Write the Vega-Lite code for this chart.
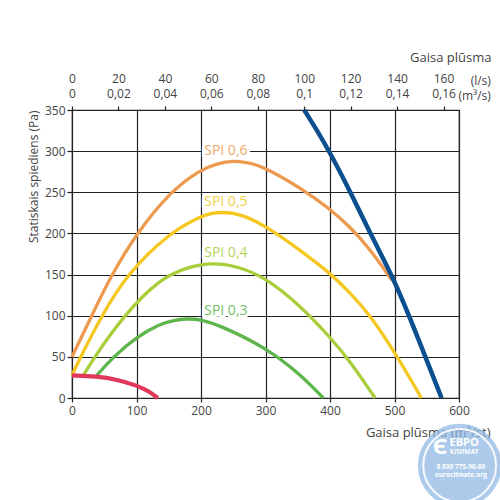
{
  "$schema": "https://vega.github.io/schema/vega-lite/v6.json",
  "width": 387,
  "height": 288,
  "autosize": "none",
  "padding": {"left": 72, "top": 110, "right": 41, "bottom": 102},
  "background": "white",
  "config": {
    "font": "Open Sans",
    "view": {"stroke": "#222", "strokeWidth": 1.2},
    "axis": {
      "domain": false,
      "labelFont": "Open Sans",
      "labelFontSize": 12,
      "labelColor": "#444",
      "titleFont": "Open Sans",
      "titleFontSize": 12,
      "titleFontWeight": "normal",
      "titleColor": "#444",
      "tickColor": "#222",
      "tickWidth": 1.2,
      "gridColor": "#222",
      "gridWidth": 1.2,
      "gridOpacity": 1
    }
  },
  "datasets": {
    "units": [
      {"t": "(l/s)", "ls": 180.4, "p": 385.6},
      {"t": "(m³/s)", "ls": 180.4, "p": 367.5}
    ],
    "curves": [
      {"series": "SPI 0,6", "q": 0, "p": 50},
      {"series": "SPI 0,6", "q": 30.5, "p": 100},
      {"series": "SPI 0,6", "q": 61.5, "p": 150},
      {"series": "SPI 0,6", "q": 100, "p": 200},
      {"series": "SPI 0,6", "q": 151.6, "p": 250},
      {"series": "SPI 0,6", "q": 198, "p": 277},
      {"series": "SPI 0,6", "q": 225, "p": 285},
      {"series": "SPI 0,6", "q": 250, "p": 288.5},
      {"series": "SPI 0,6", "q": 275, "p": 286},
      {"series": "SPI 0,6", "q": 299, "p": 280},
      {"series": "SPI 0,6", "q": 353, "p": 256},
      {"series": "SPI 0,6", "q": 400, "p": 230},
      {"series": "SPI 0,6", "q": 431, "p": 208},
      {"series": "SPI 0,6", "q": 462, "p": 181},
      {"series": "SPI 0,6", "q": 496, "p": 143},
      {"series": "SPI 0,5", "q": 0, "p": 27.5},
      {"series": "SPI 0,5", "q": 13.4, "p": 50},
      {"series": "SPI 0,5", "q": 46, "p": 100},
      {"series": "SPI 0,5", "q": 84.8, "p": 150},
      {"series": "SPI 0,5", "q": 150, "p": 200},
      {"series": "SPI 0,5", "q": 198, "p": 220},
      {"series": "SPI 0,5", "q": 215, "p": 224.5},
      {"series": "SPI 0,5", "q": 235, "p": 226},
      {"series": "SPI 0,5", "q": 260, "p": 224},
      {"series": "SPI 0,5", "q": 299, "p": 210},
      {"series": "SPI 0,5", "q": 353, "p": 180},
      {"series": "SPI 0,5", "q": 400, "p": 152},
      {"series": "SPI 0,5", "q": 431, "p": 128},
      {"series": "SPI 0,5", "q": 462, "p": 101},
      {"series": "SPI 0,5", "q": 500.8, "p": 55},
      {"series": "SPI 0,5", "q": 541.7, "p": 0},
      {"series": "SPI 0,4", "q": 17.5, "p": 27.5},
      {"series": "SPI 0,4", "q": 35, "p": 50},
      {"series": "SPI 0,4", "q": 80, "p": 100},
      {"series": "SPI 0,4", "q": 136, "p": 145},
      {"series": "SPI 0,4", "q": 180, "p": 159.5},
      {"series": "SPI 0,4", "q": 217, "p": 164.5},
      {"series": "SPI 0,4", "q": 255, "p": 160.5},
      {"series": "SPI 0,4", "q": 299, "p": 147},
      {"series": "SPI 0,4", "q": 353, "p": 113},
      {"series": "SPI 0,4", "q": 400, "p": 74},
      {"series": "SPI 0,4", "q": 431, "p": 45},
      {"series": "SPI 0,4", "q": 470, "p": 0},
      {"series": "SPI 0,3", "q": 38.3, "p": 27.5},
      {"series": "SPI 0,3", "q": 64, "p": 50},
      {"series": "SPI 0,3", "q": 100, "p": 74},
      {"series": "SPI 0,3", "q": 136, "p": 90},
      {"series": "SPI 0,3", "q": 158, "p": 94.5},
      {"series": "SPI 0,3", "q": 178, "p": 96.5},
      {"series": "SPI 0,3", "q": 200, "p": 95.5},
      {"series": "SPI 0,3", "q": 230, "p": 88},
      {"series": "SPI 0,3", "q": 299, "p": 62},
      {"series": "SPI 0,3", "q": 353, "p": 29.6},
      {"series": "SPI 0,3", "q": 389.6, "p": 0},
      {"series": "min", "q": 0, "p": 27.5},
      {"series": "min", "q": 38, "p": 26.3},
      {"series": "min", "q": 70, "p": 22.5},
      {"series": "min", "q": 100, "p": 15.4},
      {"series": "min", "q": 120, "p": 8},
      {"series": "min", "q": 133, "p": 0},
      {"series": "max", "q": 360, "p": 350},
      {"series": "max", "q": 390, "p": 313},
      {"series": "max", "q": 431, "p": 252},
      {"series": "max", "q": 462, "p": 200},
      {"series": "max", "q": 498, "p": 147},
      {"series": "max", "q": 534, "p": 78},
      {"series": "max", "q": 573, "p": 0}
    ],
    "labels": [
      {"series": "SPI 0,6", "q": 205, "p": 300},
      {"series": "SPI 0,5", "q": 205, "p": 238},
      {"series": "SPI 0,4", "q": 205, "p": 176},
      {"series": "SPI 0,3", "q": 205, "p": 106}
    ],
    "logo": [
      {"q": 601, "p": -82}
    ],
    "logotext": [
      {"t": "Є", "q": 571, "p": -60, "s": "sym"},
      {"t": "ЕВРО", "q": 608, "p": -55, "s": "big"},
      {"t": "КЛИМАТ", "q": 608, "p": -66, "s": "small"},
      {"t": "8 800 775-90-60", "q": 603, "p": -84, "s": "small"},
      {"t": "euroclimate.org", "q": 603, "p": -93, "s": "small"}
    ]
  },
  "layer": [
    {
      "data": {"name": "units"},
      "mark": {"type": "text", "align": "right", "baseline": "middle", "fontSize": 12, "color": "#444"},
      "encoding": {
        "x": {
          "field": "ls",
          "type": "quantitative",
          "scale": {"domain": [0, 166.667], "nice": false, "zero": false},
          "axis": {
            "orient": "top",
            "values": [0, 20, 40, 60, 80, 100, 120, 140, 160],
            "labelExpr": "[format(datum.value, 'd'), replace(format(datum.value / 1000, '~g'), '.', ',')]",
            "labelAlign": "center",
            "labelBaseline": "top",
            "labelLineHeight": 15,
            "labelOverlap": false,
            "labelBound": false,
            "labelFlush": false,
            "tickSize": 4,
            "labelPadding": 33,
            "grid": false,
            "title": "Gaisa plūsma",
            "titleAnchor": "end",
            "titleAlign": "right",
            "titleBaseline": "middle",
            "titleX": 419,
            "titleY": -53,
            "titleFontSize": 13
          }
        },
        "y": {"field": "p", "type": "quantitative"},
        "text": {"field": "t"}
      }
    },
    {
      "layer": [
        {
          "data": {"name": "labels"},
          "mark": {"type": "text", "align": "left", "baseline": "middle", "fontSize": 14, "stroke": "white", "strokeWidth": 6, "fill": "white"},
          "encoding": {
            "x": {"field": "q", "type": "quantitative"},
            "y": {"field": "p", "type": "quantitative"},
            "text": {"field": "series"}
          }
        },
        {
          "data": {"name": "curves"},
          "transform": [{"filter": "datum.series !== 'max' && datum.series !== 'min'"}],
          "mark": {"type": "line", "strokeWidth": 3.3, "interpolate": "basis"},
          "encoding": {
            "x": {
              "field": "q",
              "type": "quantitative",
              "scale": {"domain": [0, 600], "nice": false},
              "axis": {
                "orient": "bottom",
                "values": [0, 100, 200, 300, 400, 500, 600],
                "grid": true,
                "tickSize": 4,
                "labelPadding": 3,
                "labelFlush": false,
                "title": "Gaisa plūsma (m³/st)",
                "titleAnchor": "end",
                "titleAlign": "right",
                "titleBaseline": "middle",
                "titleX": 418,
                "titleY": 34,
                "titleFontSize": 13
              }
            },
            "y": {
              "field": "p",
              "type": "quantitative",
              "scale": {"domain": [0, 350], "nice": false},
              "axis": {
                "values": [0, 50, 100, 150, 200, 250, 300, 350],
                "grid": true,
                "tickSize": 5,
                "labelPadding": 2,
                "labelFlush": false,
                "title": "Statiskais spiediens (Pa)",
                "titleAngle": -90,
                "titleAlign": "right",
                "titleBaseline": "middle",
                "titleX": -39,
                "titleY": 0
              }
            },
            "color": {
              "field": "series",
              "type": "nominal",
              "scale": {
                "domain": ["SPI 0,6", "SPI 0,5", "SPI 0,4", "SPI 0,3", "min", "max"],
                "range": ["#EC9A4F", "#F6C71F", "#A8CE3C", "#5DB54B", "#E1375B", "#0B4F8F"]
              },
              "legend": null
            }
          }
        },
        {
          "data": {"name": "curves"},
          "transform": [{"filter": "datum.series === 'min'"}],
          "mark": {"type": "line", "strokeWidth": 4.2, "interpolate": "basis"},
          "encoding": {
            "x": {"field": "q", "type": "quantitative"},
            "y": {"field": "p", "type": "quantitative"},
            "color": {"field": "series", "type": "nominal", "legend": null}
          }
        },
        {
          "data": {"name": "curves"},
          "transform": [{"filter": "datum.series === 'max'"}],
          "mark": {"type": "line", "strokeWidth": 4.5, "interpolate": "basis"},
          "encoding": {
            "x": {"field": "q", "type": "quantitative"},
            "y": {"field": "p", "type": "quantitative"},
            "color": {"field": "series", "type": "nominal", "legend": null}
          }
        },
        {
          "data": {"name": "labels"},
          "mark": {"type": "text", "align": "left", "baseline": "middle", "fontSize": 14, "opacity": 0.85},
          "encoding": {
            "x": {"field": "q", "type": "quantitative"},
            "y": {"field": "p", "type": "quantitative"},
            "text": {"field": "series"},
            "color": {"field": "series", "type": "nominal", "legend": null}
          }
        },
        {
          "data": {"name": "logo"},
          "mark": {"type": "point", "shape": "circle", "filled": true, "size": 7000, "color": "#8DB6E2", "opacity": 0.72},
          "encoding": {
            "x": {"field": "q", "type": "quantitative"},
            "y": {"field": "p", "type": "quantitative"}
          }
        },
        {
          "data": {"name": "logo"},
          "mark": {"type": "point", "shape": "circle", "filled": false, "size": 5300, "color": "white", "strokeWidth": 2, "opacity": 0.9},
          "encoding": {
            "x": {"field": "q", "type": "quantitative"},
            "y": {"field": "p", "type": "quantitative"}
          }
        },
        {
          "data": {"name": "logotext"},
          "mark": {"type": "text", "color": "white", "align": "center", "baseline": "middle", "fontWeight": "bold"},
          "encoding": {
            "x": {"field": "q", "type": "quantitative"},
            "y": {"field": "p", "type": "quantitative"},
            "text": {"field": "t"},
            "size": {
              "condition": [
                {"test": "datum.s === 'sym'", "value": 22},
                {"test": "datum.s === 'big'", "value": 11}
              ],
              "value": 6.5
            }
          }
        }
      ]
    }
  ],
  "resolve": {"scale": {"x": "independent"}}
}
